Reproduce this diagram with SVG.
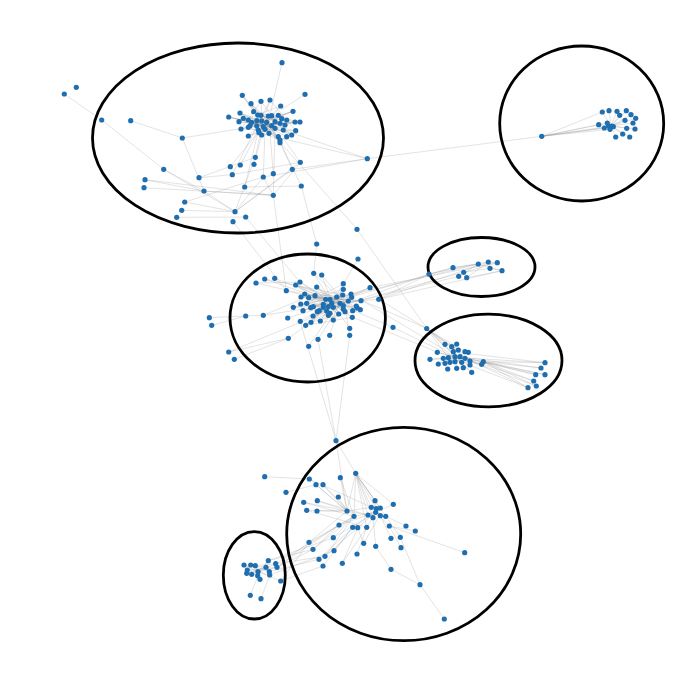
<svg xmlns="http://www.w3.org/2000/svg" width="700" height="682" viewBox="0 0 700 682">
<style>
.e{fill:none;stroke:#8a8a8a;stroke-opacity:0.38;stroke-width:0.65}
.n circle{fill:#1f6fb0;r:2.6px}
.c{fill:none;stroke:#000;stroke-width:2.8}
</style>
<rect width="700" height="682" fill="#fff"/>
<g id="connectors" class="e">
<path d="M242.3,95.3 L261.7,121 L293,111.3 L248.3,127.3 L280,140 L251,103.7 L275,128.3 L228.7,117 L283.3,130 L261,101.3 L241,129 L295.7,130.7 L270,100 L256.7,126 L300,122 L253.7,111.7 L278.3,136.7 L243.3,118.3 L286.7,120 L259,132.7 L280.7,106 L239,121.7 L271.7,125.7 L248.3,136 L295,122 L257.7,115 L280,142.7 L266.7,122.3 L240,113 L291.7,135 L268.3,116 L250,125.7 L285,125 L261,115.3 L269,133.3"/>
<path d="M242.3,95.3L262,124 M251,103.7L262,124 M261,101.3L262,124 M270,100L262,124 M280.7,106L262,124 M293,111.3L262,124 M228.7,117L262,124 M240,113L262,124 M300,122L262,124 M295.7,130.7L262,124 M291.7,135L262,124 M248.3,136L262,124 M280,142.7L262,124 M286.7,136.7L262,124 M241,129L262,124 M239,121.7L262,124 M278.3,136.7L262,124 M261.7,135L262,124 M242.3,95.3L270,128 M228.7,117L275,128 M251,103.7L278,130 M240,113L280,140 M300,122L256,126 M293,111.3L250,125.7"/>
<path d="M64.3,94L101.7,120L163.7,169.3L235,211.7 M130.7,120.7L182.3,138L263,125 M182.3,138L204,191 M163.7,169.3L204,191 M199,177.7L232.3,174.7 M145,179.7L204,191 M145,179.7L273.3,195.3 M144,187.7L273.3,195.3 M204,191L273.3,195.3 M204,191L235,211.7 M184.7,202L235,211.7 M181.7,210.3L235,211.7 M176.7,217.3L245.7,217 M184.7,202L263.3,177 M235,211.7L255.3,157.3 M235,211.7L263.3,177 M235,211.7L292.3,169.3 M235,211.7L300.3,162.3 M255.3,157.3L260,135 M230.3,166.7L258,132 M240.3,165L258,132 M254,164.3L262,134 M232.3,174.7L256,128 M273.3,173.7L270,133 M273.3,195.3L275,130 M273.3,195.3L263.3,177 M273.3,195.3L300.3,162.3 M263.3,177L367.3,158.7 M292.3,169.3L367.3,158.7 M280,138L367.3,158.7 M283,130L367.3,158.7 M292.3,169.3L280,142 M300.3,162.3L283,138 M301.3,186L280,142 M232.3,174.7L300.3,162.3 M357,229L280,142 M244.7,187L258,132 M263.3,177L265,130 M367.3,158.7L541.7,136.3 M282,62.7L270,115 M305,94.3L281,110 M199,177.7L255.3,157.3 M244.7,187L301.3,186"/>
<path d="M273.3,195.3L286.3,290.7 M301.3,186L316.7,244 M316.7,244L313.7,273.3 M233,221.7L286.3,290.7 M357,229.3L426.7,328.3 M245.7,217L300,282 M358,259L343.3,283.7"/>
<path d="M300,282 L343.3,309.3 L316.7,287 L352.7,310.7 L301,297 L361,300.7 L308.7,297.7 L333.3,320 L343.3,283.7 L306.7,303.3 L351,294 L303,310.7 L370,287.7 L313,316 L342.7,295 L293.3,307.3 L356.3,306 L315,295.7 L338.7,314 L295.7,285 L348.3,301 L310.7,307.7 L336.7,297 L320.3,321 L351.7,297.3 L304.7,294 L357.3,308 L300.7,304 L343.3,289.3 L311,322.3 L360.3,309.7 L325.7,299.3 L352.3,317.3 L305.7,325.3 L331.7,303.3"/>
<path d="M300,282L332,303 M295.7,285L332,303 M313.7,273.3L332,303 M321.7,275L332,303 M316.7,287L332,303 M343.3,283.7L332,303 M343.3,289.3L332,303 M370,287.7L332,303 M378.7,299.3L332,303 M361,300.7L332,303 M352.3,317.3L332,303 M349.7,328.3L332,303 M320.3,321L332,303 M305.7,325.3L332,303 M300.3,321.3L332,303 M293.3,307.3L332,303 M286.3,290.7L332,303 M304.7,294L345,303 M301,297L345,303 M300.7,304L345,303 M313,316L345,303 M311,322.3L345,303 M313.7,273.3L345,303 M321.7,275L345,303 M295.7,285L345,303"/>
<path d="M209.3,317.7L245.7,316 M211.7,325.3L245.7,316 M245.7,316L263.3,315.3 M263.3,315.3L330,305 M263.3,315.3L300,300 M228.7,352L288.3,338.3 M234.3,359.3L288.3,338.3 M228.7,352L330,310 M288.3,338.3L330,308 M256,283L300,282 M256,283L330,300 M264.7,279L325,300 M274.7,278.3L330,300 M264.7,279L343,295 M318,339.3L340,305 M308.7,346.3L330,315 M329.7,335.3L338,310 M349.7,335.3L345,305 M287.7,318L330,305 M393,327.3L352,310 M426.7,328.3L361,300 M336,440.7L300,321.3 M336,440.7L349.7,335.3 M336,440.7L318,339.3"/>
<path d="M340,300L453,267.7 M350,295L478.3,264 M378.7,299.3L488.3,262 M378.7,299.3L429,274 M361,300L463.7,272.3 M370,287.7L497.3,262.7 M343,305L458.7,276.3 M378.7,299.3L426.7,328.7 M393,327.3L452,356 M361,300L445,350 M352,317L437,352 M350,303L429,274 M378.7,299.3L502,270.7"/>
<path d="M453,267.7L478.3,264 M453,267.7L488.3,262 M463.7,272.3L490,268.3 M458.7,276.3L478.3,264 M466.7,277.7L488.3,262 M478.3,264L502,270.7 M488.3,262L497.3,262.7 M490,268.3L502,270.7 M463.7,272.3L497.3,262.7 M429,274L453,267.7 M429,274L478.3,264 M466.7,277.7L502,270.7"/>
<path d="M426.7,328.7L445,344.3 M426.7,328.7L451.7,346.7 M426.7,328.7L458.3,350 M426.7,328.7L465,351.7 M426.7,328.7L455,356.7 M426.7,328.7L470,361 M426.7,328.7L448.3,357.7 M426.7,328.7L461.7,362.3"/>
<path d="M545,362.7L483.3,361.7 M541,368L483.3,361.7 M535.7,374.7L483.3,361.7 M545,374.7L483.3,361.7 M533.7,381L483.3,361.7 M536.3,386L483.3,361.7 M528,387.7L483.3,361.7 M545,362.7L465,358 M541,368L460,356.7 M535.7,374.7L465,358 M545,374.7L460,356.7 M533.7,381L460,356.7 M536.3,386L470,361 M528,387.7L465,358 M545,362.7L455,352 M528,387.7L456,360"/>
<path d="M430,359.3L455,356.7 M437.3,352.3L455,356.7 M438.3,364L455,356.7 M445,344.3L455,356.7 M456.7,344L455,356.7 M468.3,352.3L455,356.7 M483.3,361.7L455,356.7 M481.7,364.3L455,356.7 M447.7,369L455,356.7 M456.7,368.3L455,356.7 M471.7,372.3L455,356.7 M470,365L455,356.7 M445,363.3L455,356.7 M430,359.3L465,358 M437.3,352.3L470,361 M456.7,344L448,362 M471.7,372.3L445,350 M481.7,364.3L443,358"/>
<path d="M541.7,136.3L598.7,124.7 M541.7,136.3L604.3,128 M541.7,136.3L607.3,123 M541.7,136.3L611.7,126 M541.7,136.3L613.3,126.7 M541.7,136.3L610,129.3 M541.7,136.3L602.3,112"/>
<path d="M602.3,112L611,126 M609,110.7L611,126 M617,111.3L611,126 M626.3,110.7L611,126 M619.7,115.3L611,126 M631,114.7L611,126 M635.7,118.3L611,126 M625,120.3L611,126 M633,123L611,126 M598.7,124.7L611,126 M626.7,128.3L611,126 M635,129L611,126 M622.7,134L611,126 M615.7,137L611,126 M629.7,137L611,126 M604.3,128L611,126"/>
<path d="M375.7,512.3L375,500.7 M375.7,512.3L393.3,504.3 M375.7,512.3L354,516.3 M375.7,512.3L366.7,527.3 M375.7,512.3L357.7,527.7 M375.7,512.3L352.7,527.3 M375.7,512.3L389.3,526 M375.7,512.3L385.7,516.3 M371.3,507.3L380.3,515.7 M368,515L380.3,508 M373,517.7L376.3,508.7"/>
<path d="M355.7,473.3L371.3,507.3 M355.7,473.3L375,500.7 M355.7,473.3L368,515 M355.7,473.3L373,517.7 M355.7,473.3L380.3,508 M355.7,473.3L376.3,508.7 M355.7,473.3L385.7,516.3 M355.7,473.3L354,516.3 M355.7,473.3L347,511 M355.7,473.3L393.3,504.3 M355.7,473.3L366.7,527.3 M336,440.7L355.7,473.3 M336,440.7L347,511 M340.3,477.7L347,511 M338.3,497L347,511 M340.3,477.7L354,516.3"/>
<path d="M309.3,479L347,511 M316,484.7L347,511 M323,484.7L347,511 M303.7,502.3L347,511 M317.3,500.7L347,511 M306.7,510.3L347,511 M317,511L347,511 M309.3,479L371.3,507.3 M323,484.7L354,516.3 M317.3,500.7L368,515 M286,492.3L316,484.7 M264.7,476.7L309.3,479 M347,511L371.3,507.3 M347,511L368,515 M303.7,502.3L354,516.3 M306.7,510.3L366.7,527.3"/>
<path d="M354,516.3L309,542.3 M354,516.3L313,549.3 M354,516.3L325,556.3 M352.7,527.3L319,559.3 M352.7,527.3L323,566 M354,516.3L333.3,537.7 M352.7,527.3L334,550.7 M357.7,527.7L342.3,563.3 M339,525L368,515 M357,554L366.7,527.3 M363.7,543.3L357.7,527.7 M375.7,546.3L373,517.7 M391,538.3L380.3,515.7 M400.3,537.3L385.7,516.3 M401,547.7L389.3,526 M406,526L385.7,516.3 M415.3,531L389.3,526 M464.7,552.7L389.3,526 M391,569.3L375.7,546.3 M391,569.3L420,584.7 M420,584.7L444.3,619 M400.3,537.3L420,584.7 M309,542.3L347,511 M313,549.3L339,525 M325,556.3L357.7,527.7 M333.3,537.7L375.7,512.3 M342.3,563.3L366.7,527.3 M363.7,543.3L380,515"/>
<path d="M244,565L258,571.7 M250.7,565L258,571.7 M255.3,565.7L258,571.7 M268.3,560.7L258,571.7 M275.7,563.7L258,571.7 M277,567.3L258,571.7 M247.3,570L258,571.7 M246.7,573.3L258,571.7 M251.7,574.3L258,571.7 M269.7,575L258,571.7 M260,579.3L258,571.7 M280.7,581L258,571.7 M244,565L266,567.3 M246.7,573.3L266,567.3 M250.7,565L269.3,571.7 M247.3,570L277,567.3 M255.3,565.7L275.7,563.7 M257.7,575.7L268.3,560.7 M250.3,595.3L258,575.7 M261,598.7L269.7,575"/>
<path d="M280.7,581L309,542.3 M277,567.3L313,549.3 M275.7,563.7L325,556.3 M269.3,571.7L319,559.3 M268.3,560.7L333.3,537.7 M277,567.3L339,525 M280.7,581L323,566 M275.7,563.7L354,516.3 M269.7,575L334,550.7 M277,567.3L309,542.3 M268.3,560.7L313,549.3"/>
</g>
<g id="cluster1" class="n">
<ellipse class="c" cx="238" cy="138" rx="145.5" ry="95"/>
<circle cx="64.3" cy="94" r="2.6"/><circle cx="76.3" cy="87.3" r="2.6"/><circle cx="101.7" cy="120" r="2.6"/><circle cx="130.7" cy="120.7" r="2.6"/><circle cx="182.3" cy="138" r="2.6"/><circle cx="282" cy="62.7" r="2.6"/><circle cx="367.3" cy="158.7" r="2.6"/><circle cx="255.3" cy="157.3" r="2.6"/><circle cx="230.3" cy="166.7" r="2.6"/><circle cx="240.3" cy="165" r="2.6"/><circle cx="254" cy="164.3" r="2.6"/><circle cx="300.3" cy="162.3" r="2.6"/><circle cx="292.3" cy="169.3" r="2.6"/><circle cx="273.3" cy="173.7" r="2.6"/><circle cx="263.3" cy="177" r="2.6"/><circle cx="232.3" cy="174.7" r="2.6"/><circle cx="163.7" cy="169.3" r="2.6"/><circle cx="199" cy="177.7" r="2.6"/><circle cx="145" cy="179.7" r="2.6"/><circle cx="144" cy="187.7" r="2.6"/><circle cx="244.7" cy="187" r="2.6"/><circle cx="301.3" cy="186" r="2.6"/><circle cx="204" cy="191" r="2.6"/><circle cx="273.3" cy="195.3" r="2.6"/><circle cx="184.7" cy="202" r="2.6"/><circle cx="181.7" cy="210.3" r="2.6"/><circle cx="176.7" cy="217.3" r="2.6"/><circle cx="235" cy="211.7" r="2.6"/><circle cx="245.7" cy="217" r="2.6"/><circle cx="233" cy="221.7" r="2.6"/>
<circle cx="242.3" cy="95.3" r="2.6"/><circle cx="251" cy="103.7" r="2.6"/><circle cx="261" cy="101.3" r="2.6"/><circle cx="270" cy="100" r="2.6"/><circle cx="280.7" cy="106" r="2.6"/><circle cx="293" cy="111.3" r="2.6"/><circle cx="228.7" cy="117" r="2.6"/><circle cx="240" cy="113" r="2.6"/><circle cx="253.7" cy="111.7" r="2.6"/><circle cx="257.7" cy="115" r="2.6"/><circle cx="261" cy="115.3" r="2.6"/><circle cx="268.3" cy="116" r="2.6"/><circle cx="271.7" cy="115.7" r="2.6"/><circle cx="278.3" cy="115.3" r="2.6"/><circle cx="243.3" cy="118.3" r="2.6"/><circle cx="239" cy="121.7" r="2.6"/><circle cx="248.3" cy="120" r="2.6"/><circle cx="251.7" cy="122.3" r="2.6"/><circle cx="256.7" cy="120.7" r="2.6"/><circle cx="261.7" cy="121" r="2.6"/><circle cx="266.7" cy="122.3" r="2.6"/><circle cx="275" cy="121.7" r="2.6"/><circle cx="281.7" cy="118.7" r="2.6"/><circle cx="286.7" cy="120" r="2.6"/><circle cx="295" cy="122" r="2.6"/><circle cx="300" cy="122" r="2.6"/><circle cx="250" cy="125.7" r="2.6"/><circle cx="256.7" cy="126" r="2.6"/><circle cx="263.3" cy="126.7" r="2.6"/><circle cx="271.7" cy="125.7" r="2.6"/><circle cx="280" cy="123.3" r="2.6"/><circle cx="285" cy="125" r="2.6"/><circle cx="241" cy="129" r="2.6"/><circle cx="248.3" cy="127.3" r="2.6"/><circle cx="258.3" cy="130" r="2.6"/><circle cx="265" cy="129.3" r="2.6"/><circle cx="275" cy="128.3" r="2.6"/><circle cx="283.3" cy="130" r="2.6"/><circle cx="295.7" cy="130.7" r="2.6"/><circle cx="291.7" cy="135" r="2.6"/><circle cx="248.3" cy="136" r="2.6"/><circle cx="259" cy="132.7" r="2.6"/><circle cx="261.7" cy="135" r="2.6"/><circle cx="269" cy="133.3" r="2.6"/><circle cx="278.3" cy="136.7" r="2.6"/><circle cx="280" cy="140" r="2.6"/><circle cx="280" cy="142.7" r="2.6"/><circle cx="286.7" cy="136.7" r="2.6"/><circle cx="305" cy="94.3" r="2.6"/>
</g>
<g id="cluster2" class="n">
<ellipse class="c" cx="581.7" cy="123.5" rx="82" ry="77.5"/>
<circle cx="541.7" cy="136.3" r="2.6"/><circle cx="602.3" cy="112" r="2.6"/><circle cx="609" cy="110.7" r="2.6"/><circle cx="617" cy="111.3" r="2.6"/><circle cx="626.3" cy="110.7" r="2.6"/><circle cx="619.7" cy="115.3" r="2.6"/><circle cx="631" cy="114.7" r="2.6"/><circle cx="635.7" cy="118.3" r="2.6"/><circle cx="625" cy="120.3" r="2.6"/><circle cx="633" cy="123" r="2.6"/><circle cx="598.7" cy="124.7" r="2.6"/><circle cx="607.3" cy="123" r="2.6"/><circle cx="611.7" cy="126" r="2.6"/><circle cx="604.3" cy="128" r="2.6"/><circle cx="610" cy="129.3" r="2.6"/><circle cx="613.3" cy="126.7" r="2.6"/><circle cx="608.5" cy="126" r="2.6"/><circle cx="626.7" cy="128.3" r="2.6"/><circle cx="635" cy="129" r="2.6"/><circle cx="622.7" cy="134" r="2.6"/><circle cx="615.7" cy="137" r="2.6"/><circle cx="629.7" cy="137" r="2.6"/>
</g>
<g id="cluster3" class="n">
<ellipse class="c" cx="307.7" cy="318" rx="77.7" ry="64"/>
<circle cx="313.7" cy="273.3" r="2.6"/><circle cx="321.7" cy="275" r="2.6"/><circle cx="256" cy="283" r="2.6"/><circle cx="264.7" cy="279" r="2.6"/><circle cx="274.7" cy="278.3" r="2.6"/><circle cx="300" cy="282" r="2.6"/><circle cx="295.7" cy="285" r="2.6"/><circle cx="316.7" cy="287" r="2.6"/><circle cx="343.3" cy="283.7" r="2.6"/><circle cx="343.3" cy="289.3" r="2.6"/><circle cx="370" cy="287.7" r="2.6"/><circle cx="286.3" cy="290.7" r="2.6"/><circle cx="304.7" cy="294" r="2.6"/><circle cx="301" cy="297" r="2.6"/><circle cx="308.7" cy="297.7" r="2.6"/><circle cx="315" cy="295.7" r="2.6"/><circle cx="342.7" cy="295" r="2.6"/><circle cx="351" cy="294" r="2.6"/><circle cx="336.7" cy="297" r="2.6"/><circle cx="351.7" cy="297.3" r="2.6"/><circle cx="325.7" cy="299.3" r="2.6"/><circle cx="361" cy="300.7" r="2.6"/><circle cx="378.7" cy="299.3" r="2.6"/><circle cx="300.7" cy="304" r="2.6"/><circle cx="306.7" cy="303.3" r="2.6"/><circle cx="348.3" cy="301" r="2.6"/><circle cx="356.3" cy="306" r="2.6"/><circle cx="293.3" cy="307.3" r="2.6"/><circle cx="310.7" cy="307.7" r="2.6"/><circle cx="303" cy="310.7" r="2.6"/><circle cx="319.3" cy="310.7" r="2.6"/><circle cx="323.3" cy="307.3" r="2.6"/><circle cx="331.7" cy="303.3" r="2.6"/><circle cx="333.3" cy="307.3" r="2.6"/><circle cx="343.3" cy="309.3" r="2.6"/><circle cx="352.7" cy="310.7" r="2.6"/><circle cx="360.3" cy="309.7" r="2.6"/><circle cx="357.3" cy="308" r="2.6"/><circle cx="338.7" cy="314" r="2.6"/><circle cx="328.3" cy="315.3" r="2.6"/><circle cx="313" cy="316" r="2.6"/><circle cx="317.3" cy="311.7" r="2.6"/><circle cx="352.3" cy="317.3" r="2.6"/><circle cx="209.3" cy="317.7" r="2.6"/><circle cx="211.7" cy="325.3" r="2.6"/><circle cx="245.7" cy="316" r="2.6"/><circle cx="263.3" cy="315.3" r="2.6"/><circle cx="287.7" cy="318" r="2.6"/><circle cx="300.3" cy="321.3" r="2.6"/><circle cx="305.7" cy="325.3" r="2.6"/><circle cx="311" cy="322.3" r="2.6"/><circle cx="320.3" cy="321" r="2.6"/><circle cx="333.3" cy="320" r="2.6"/><circle cx="349.7" cy="328.3" r="2.6"/><circle cx="349.7" cy="335.3" r="2.6"/><circle cx="329.7" cy="335.3" r="2.6"/><circle cx="288.3" cy="338.3" r="2.6"/><circle cx="318" cy="339.3" r="2.6"/><circle cx="308.7" cy="346.3" r="2.6"/><circle cx="228.7" cy="352" r="2.6"/><circle cx="234.3" cy="359.3" r="2.6"/><circle cx="330" cy="299.3" r="2.6"/><circle cx="340" cy="303.3" r="2.6"/><circle cx="345" cy="311.7" r="2.6"/><circle cx="326.7" cy="311" r="2.6"/><circle cx="323.3" cy="304.3" r="2.6"/><circle cx="313.3" cy="306.7" r="2.6"/><circle cx="328.3" cy="306.7" r="2.6"/><circle cx="343.3" cy="305.7" r="2.6"/><circle cx="330" cy="313.3" r="2.6"/>
<circle cx="357" cy="229.3" r="2.6"/><circle cx="316.7" cy="244" r="2.6"/><circle cx="358" cy="259" r="2.6"/><circle cx="393" cy="327.3" r="2.6"/>
</g>
<g id="cluster4" class="n">
<ellipse class="c" cx="481.5" cy="267" rx="53.5" ry="29.5"/>
<circle cx="453" cy="267.7" r="2.6"/><circle cx="478.3" cy="264" r="2.6"/><circle cx="488.3" cy="262" r="2.6"/><circle cx="497.3" cy="262.7" r="2.6"/><circle cx="490" cy="268.3" r="2.6"/><circle cx="502" cy="270.7" r="2.6"/><circle cx="463.7" cy="272.3" r="2.6"/><circle cx="458.7" cy="276.3" r="2.6"/><circle cx="466.7" cy="277.7" r="2.6"/><circle cx="429" cy="274" r="2.6"/>
</g>
<g id="cluster5" class="n">
<ellipse class="c" cx="488.5" cy="360.5" rx="73.5" ry="46.3"/>
<circle cx="426.7" cy="328.5" r="2.6"/><circle cx="430" cy="359.3" r="2.6"/><circle cx="437.3" cy="352.3" r="2.6"/><circle cx="438.3" cy="364" r="2.6"/><circle cx="445" cy="344.3" r="2.6"/><circle cx="456.7" cy="344" r="2.6"/><circle cx="451.7" cy="346.7" r="2.6"/><circle cx="453.3" cy="351.7" r="2.6"/><circle cx="458.3" cy="350" r="2.6"/><circle cx="465" cy="351.7" r="2.6"/><circle cx="468.3" cy="352.3" r="2.6"/><circle cx="443.3" cy="358.3" r="2.6"/><circle cx="448.3" cy="357.7" r="2.6"/><circle cx="455" cy="356.7" r="2.6"/><circle cx="460" cy="356.7" r="2.6"/><circle cx="465" cy="358.3" r="2.6"/><circle cx="450" cy="362.3" r="2.6"/><circle cx="455" cy="361.7" r="2.6"/><circle cx="461.7" cy="362.3" r="2.6"/><circle cx="470" cy="361" r="2.6"/><circle cx="483.3" cy="361.7" r="2.6"/><circle cx="481.7" cy="364.3" r="2.6"/><circle cx="447.7" cy="369" r="2.6"/><circle cx="456.7" cy="368.3" r="2.6"/><circle cx="463.3" cy="367.7" r="2.6"/><circle cx="471.7" cy="372.3" r="2.6"/><circle cx="470" cy="365" r="2.6"/><circle cx="445" cy="363.3" r="2.6"/>
<circle cx="545" cy="362.7" r="2.6"/><circle cx="541" cy="368" r="2.6"/><circle cx="535.7" cy="374.7" r="2.6"/><circle cx="545" cy="374.7" r="2.6"/><circle cx="533.7" cy="381" r="2.6"/><circle cx="536.3" cy="386" r="2.6"/><circle cx="528" cy="387.7" r="2.6"/>
</g>
<g id="cluster6" class="n">
<ellipse class="c" cx="403.7" cy="534" rx="117" ry="106.7"/>
<circle cx="336" cy="440.7" r="2.6"/><circle cx="264.7" cy="476.7" r="2.6"/><circle cx="309.3" cy="479" r="2.6"/><circle cx="340.3" cy="477.7" r="2.6"/><circle cx="355.7" cy="473.3" r="2.6"/><circle cx="316" cy="484.7" r="2.6"/><circle cx="323" cy="484.7" r="2.6"/><circle cx="286" cy="492.3" r="2.6"/><circle cx="338.3" cy="497" r="2.6"/><circle cx="303.7" cy="502.3" r="2.6"/><circle cx="317.3" cy="500.7" r="2.6"/><circle cx="306.7" cy="510.3" r="2.6"/><circle cx="317" cy="511" r="2.6"/><circle cx="347" cy="511" r="2.6"/><circle cx="375" cy="500.7" r="2.6"/><circle cx="371.3" cy="507.3" r="2.6"/><circle cx="376.3" cy="508.7" r="2.6"/><circle cx="380.3" cy="508" r="2.6"/><circle cx="393.3" cy="504.3" r="2.6"/><circle cx="368" cy="515" r="2.6"/><circle cx="373" cy="517.7" r="2.6"/><circle cx="375.7" cy="512.3" r="2.6"/><circle cx="380.3" cy="515.7" r="2.6"/><circle cx="385.7" cy="516.3" r="2.6"/><circle cx="354" cy="516.3" r="2.6"/><circle cx="339" cy="525" r="2.6"/><circle cx="352.7" cy="527.3" r="2.6"/><circle cx="357.7" cy="527.7" r="2.6"/><circle cx="366.7" cy="527.3" r="2.6"/><circle cx="389.3" cy="526" r="2.6"/><circle cx="406" cy="526" r="2.6"/><circle cx="415.3" cy="531" r="2.6"/><circle cx="333.3" cy="537.7" r="2.6"/><circle cx="391" cy="538.3" r="2.6"/><circle cx="400.3" cy="537.3" r="2.6"/><circle cx="309" cy="542.3" r="2.6"/><circle cx="363.7" cy="543.3" r="2.6"/><circle cx="375.7" cy="546.3" r="2.6"/><circle cx="401" cy="547.7" r="2.6"/><circle cx="313" cy="549.3" r="2.6"/><circle cx="334" cy="550.7" r="2.6"/><circle cx="325" cy="556.3" r="2.6"/><circle cx="357" cy="554" r="2.6"/><circle cx="464.7" cy="552.7" r="2.6"/><circle cx="319" cy="559.3" r="2.6"/><circle cx="323" cy="566" r="2.6"/><circle cx="342.3" cy="563.3" r="2.6"/><circle cx="391" cy="569.3" r="2.6"/><circle cx="420" cy="584.7" r="2.6"/><circle cx="444.3" cy="619" r="2.6"/>
</g>
<g id="cluster7" class="n">
<ellipse class="c" cx="254.3" cy="575.3" rx="31" ry="43.7"/>
<circle cx="244" cy="565" r="2.6"/><circle cx="250.7" cy="565" r="2.6"/><circle cx="255.3" cy="565.7" r="2.6"/><circle cx="268.3" cy="560.7" r="2.6"/><circle cx="275.7" cy="563.7" r="2.6"/><circle cx="277" cy="567.3" r="2.6"/><circle cx="266" cy="567.3" r="2.6"/><circle cx="247.3" cy="570" r="2.6"/><circle cx="246.7" cy="573.3" r="2.6"/><circle cx="251.7" cy="574.3" r="2.6"/><circle cx="258" cy="571.7" r="2.6"/><circle cx="257.7" cy="575.7" r="2.6"/><circle cx="269.3" cy="571.7" r="2.6"/><circle cx="269.7" cy="575" r="2.6"/><circle cx="260" cy="579.3" r="2.6"/><circle cx="280.7" cy="581" r="2.6"/><circle cx="250.3" cy="595.3" r="2.6"/><circle cx="261" cy="598.7" r="2.6"/>
</g>
</svg>
